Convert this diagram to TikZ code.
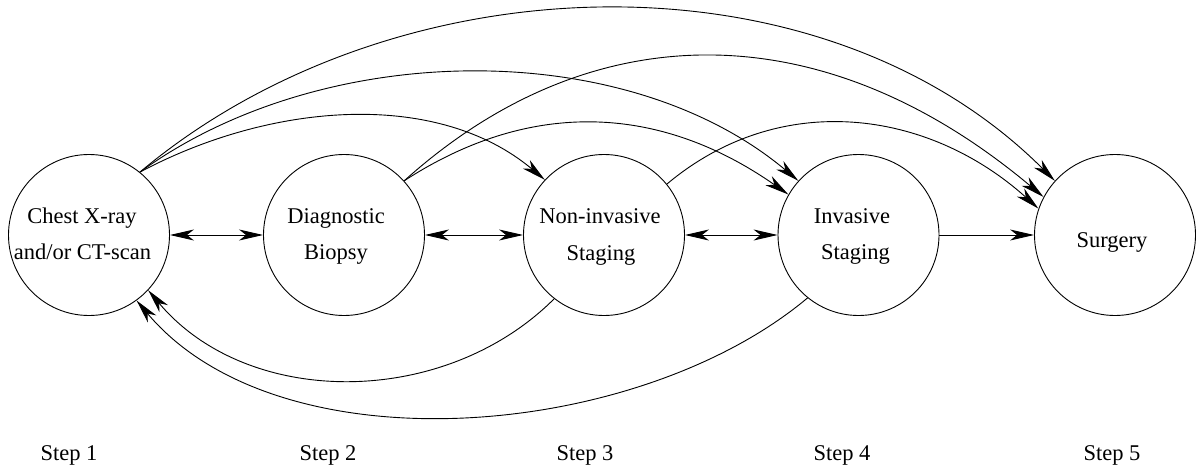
\documentclass[tikz,border=0pt]{standalone}
\usepackage{fontspec}
\setmainfont{Liberation Serif}
\usetikzlibrary{arrows.meta}

\begin{document}
\begin{tikzpicture}[
  x=1pt, y=1pt,
  stage/.style={circle, draw, line width=0.9pt, minimum size=161pt, inner sep=0pt},
  lbl/.style={anchor=base, inner sep=0pt, font=\fontsize{22.5}{27}\selectfont},
  conn/.style={line width=0.9pt, -{Stealth[length=24pt, width=11pt, inset=7pt]}},
  both/.style={line width=0.9pt, {Stealth[length=24pt, width=11pt, inset=7pt]}-{Stealth[length=24pt, width=11pt, inset=7pt]}}
]
\useasboundingbox (0,0) rectangle (1196,-468);

% the five stages
\node[stage] (n1) at (89,-235) {};
\node[stage] (n2) at (344,-235) {};
\node[stage] (n3) at (604,-235) {};
\node[stage] (n4) at (858.5,-235) {};
\node[stage] (n5) at (1115,-235) {};

% stage texts
\node[lbl] (t1a) at (82,-223) {Chest X-ray};
\node[lbl] (t1b) at (82.5,-259) {and/or CT-scan};
\node[lbl] (t2a) at (336,-223) {Diagnostic};
\node[lbl] (t2b) at (336,-259) {Biopsy};
\node[lbl] (t3a) at (600,-223) {Non-invasive};
\node[lbl] (t3b) at (601,-260) {Staging};
\node[lbl] (t4a) at (852,-223) {Invasive};
\node[lbl] (t4b) at (855.5,-259) {Staging};
\node[lbl] (t5) at (1112,-247) {Surgery};

% step captions
\node[lbl] (s1) at (69,-460) {Step 1};
\node[lbl] (s2) at (328,-460) {Step 2};
\node[lbl] (s3) at (585,-460) {Step 3};
\node[lbl] (s4) at (842,-460) {Step 4};
\node[lbl] (s5) at (1112,-460) {Step 5};

% neighbouring stages
\draw[both] (n1) -- (n2);
\draw[both] (n2) -- (n3);
\draw[both] (n3) -- (n4);
\draw[conn] (n4) -- (n5);

% forward jumps over the top
\draw[conn] (n1.51) .. controls +(28:150) and +(140:140) .. (n3.137);
\draw[conn] (n1.51) .. controls +(36:226) and +(140:226) .. (n4.138);
\draw[conn] (n1.51) .. controls +(40:332) and +(135:332) .. (n5.138);
\draw[conn] (n2.42) .. controls +(33:154) and +(145:154) .. (n4.150);
\draw[conn] (n2.42) .. controls +(42:250) and +(140:290) .. (n5.152);
\draw[conn] (n3.39) .. controls +(40:148) and +(138:148) .. (n5.161);

% returns underneath
\draw[conn] (n3.232) .. controls +(225:155) and +(310:155) .. (n1.317);
\draw[conn] (n4.231) .. controls +(220:222) and +(310:222) .. (n1.306);
\end{tikzpicture}
\end{document}
